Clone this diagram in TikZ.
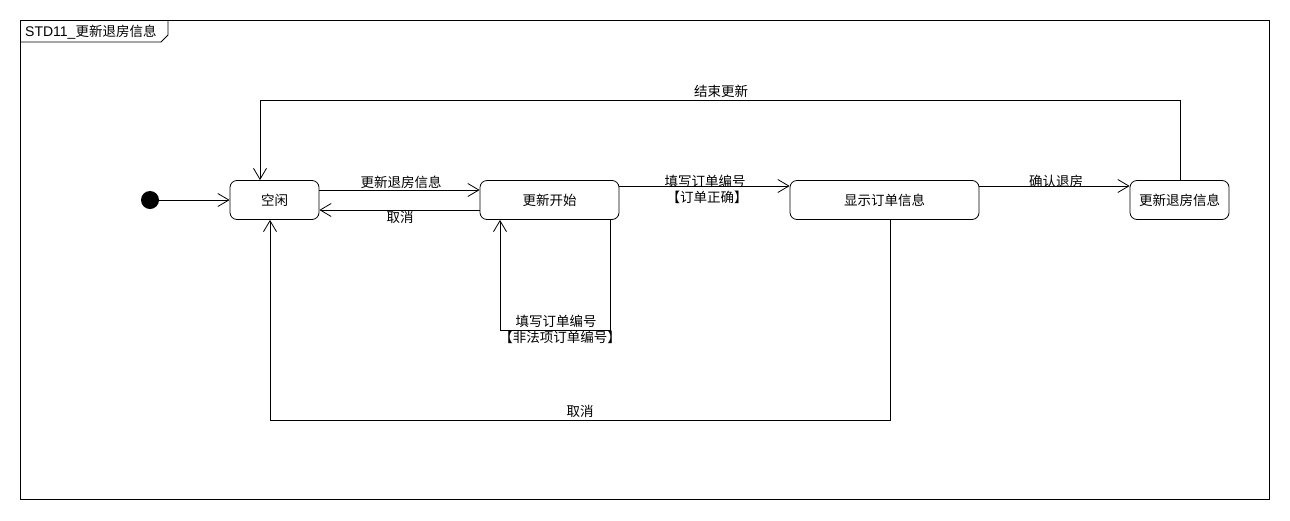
\documentclass[tikz,border=0pt]{standalone}
\usepackage{fontspec}
\setmainfont{Liberation Sans}
\newfontfamily\cjk{Noto Sans CJK SC}
\usetikzlibrary{arrows.meta,calc}
\begin{document}
\begin{tikzpicture}[x=1pt,y=-1pt,
  every node/.style={font=\cjk\fontsize{13.5}{15}\selectfont, inner sep=0pt},
  state/.style={draw, rounded corners=7pt, line width=0.8pt, minimum height=39pt},
  tr/.style={draw, line width=0.8pt, -{Straight Barb[length=11pt,width=13pt,line width=0.8pt]}}]
\useasboundingbox (0,0) rectangle (1290,520);
% frame with its name tab
\node[draw, line width=0.8pt, anchor=north west, minimum width=1249pt, minimum height=479pt] (frame) at (20,20) {};
\draw[line width=0.8pt] (20,42) -- (161,42) -- (168,35) -- (168,20);
\node[anchor=west] (title) at (25,32) {{\fontsize{14}{15}\selectfont\rmfamily STD11\_}更新退房信息};
% states
\node[circle, fill=black, minimum size=18pt] (init) at (150,200) {};
\node[state, minimum width=89pt] (idle) at (274.5,200) {空闲};
\node[state, minimum width=139pt] (start) at (549.5,200) {更新开始};
\node[state, minimum width=189pt] (show) at (884.5,200) {显示订单信息};
\node[state, minimum width=99pt] (upd) at (1179.5,200) {更新退房信息};
% transitions
\draw[tr] (init) -- (idle.west);
\draw[tr] ([yshift=10pt]idle.east) -- ([yshift=10pt]start.west);
\node (l1) at (401,182) {更新退房信息};
\draw[tr] ([yshift=-10pt]start.west) -- ([yshift=-10pt]idle.east);
\node (l2) at (400,217) {取消};
\draw[tr] (start.south -| 610,0) -- (610,330) -- (500,330) -- (start.south -| 500,0);
\node (l3) at (556,321) {填写订单编号};
\node (l4) at (560,337) {【非法项订单编号】};
\draw[tr] ([yshift=14pt]start.east) -- ([yshift=14pt]show.west);
\node (l5) at (705,181) {填写订单编号};
\node (l6) at (707,197) {【订单正确】};
\draw[tr] ([yshift=14pt]show.east) -- ([yshift=14pt]upd.west);
\node (l7) at (1056,181) {确认退房};
\draw[tr] (show.south -| 890,0) -- (890,420) -- (270,420) -- (idle.south -| 270,0);
\node (l8) at (580,411) {取消};
\draw[tr] (upd.north -| 1180,0) -- (1180,100) -- (260,100) -- (idle.north -| 260,0);
\node (l9) at (721,91) {结束更新};
\end{tikzpicture}
\end{document}
